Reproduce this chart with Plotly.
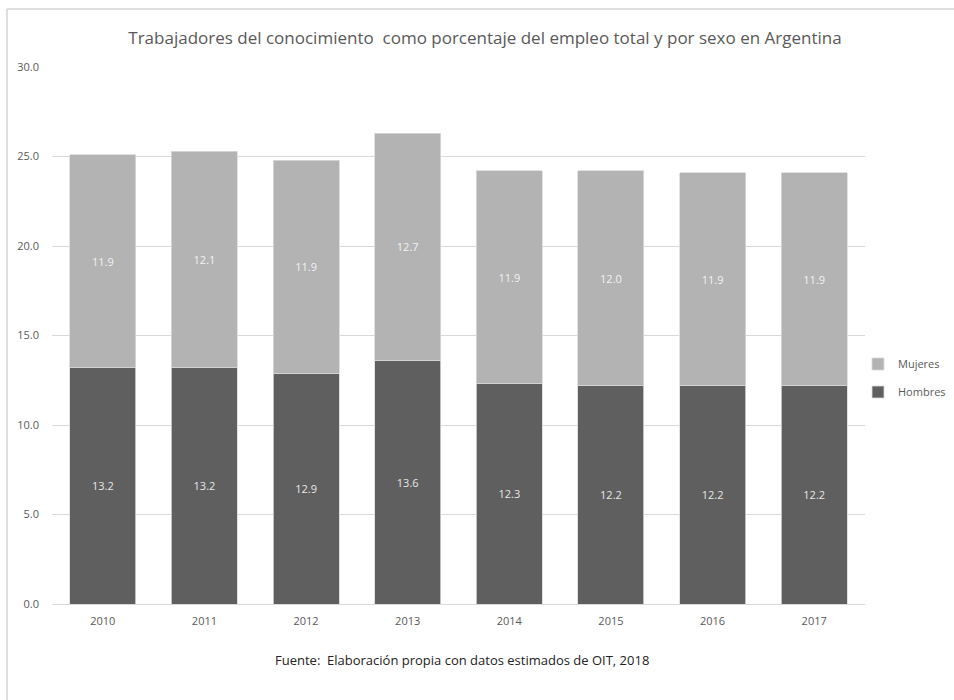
import plotly.graph_objects as go

# Knowledge workers as % of total employment, by sex (Argentina)
years = ["2010", "2011", "2012", "2013", "2014", "2015", "2016", "2017"]
hombres = [13.2, 13.2, 12.9, 13.6, 12.3, 12.2, 12.2, 12.2]
mujeres = [11.9, 12.1, 11.9, 12.7, 11.9, 12.0, 11.9, 11.9]
y_ticks = [0, 5, 10, 15, 20, 25, 30]

FONT = "Open Sans"
TICK_GRAY = "#595959"

# plot area in pixels
L, R, T, B = 52, 865, 67, 604
PW, PH = R - L, B - T

fig = go.Figure()
fig.add_trace(go.Bar(
    x=years, y=hombres, name="Hombres", legendgroup="hombres", legendrank=2,
    marker=dict(color="#5f5f5f", line=dict(color="#d9d9d9", width=0.8)),
    text=[f"{v:.1f}" for v in hombres], textposition="inside",
    insidetextanchor="middle",
    textfont=dict(family=FONT, size=11, color="#e8e8e8"),
))
fig.add_trace(go.Bar(
    x=years, y=mujeres, name="Mujeres", legendgroup="mujeres", legendrank=1,
    marker=dict(color="#b3b3b3", line=dict(color="#d9d9d9", width=0.8)),
    text=[f"{v:.1f}" for v in mujeres], textposition="inside",
    insidetextanchor="middle",
    textfont=dict(family=FONT, size=11, color="#f2f2f2"),
))

fig.update_layout(
    width=954, height=700,
    barmode="stack", bargap=0.35,
    plot_bgcolor="white", paper_bgcolor="white",
    margin=dict(l=L, r=954 - R, t=T, b=700 - B, autoexpand=False),
    font=dict(family=FONT, color=TICK_GRAY),
    uniformtext=dict(mode="show", minsize=9),
    title=dict(
        text="Trabajadores del conocimiento  como porcentaje del empleo total y por sexo en Argentina",
        x=485 / 954, xanchor="center", y=1 - 38 / 700, yanchor="middle",
        font=dict(family=FONT, size=17, color=TICK_GRAY),
    ),
    legend=dict(
        x=(858 - L) / PW, xanchor="left",
        y=(B - 378) / PH, yanchor="middle",
        traceorder="grouped",
        font=dict(family=FONT, size=11, color=TICK_GRAY),
        itemwidth=30, tracegroupgap=9,
    ),
    xaxis=dict(
        showgrid=False, showline=True, linecolor="#d9d9d9", linewidth=1,
        tickfont=dict(family=FONT, size=11, color=TICK_GRAY),
        ticks="", ticklabelstandoff=7,
    ),
    yaxis=dict(
        range=[0, 30], tickvals=y_ticks,
        ticktext=[f"{v:.1f}" for v in y_ticks],
        showgrid=True, gridcolor="#d9d9d9", gridwidth=1,
        zeroline=False, showline=False,
        tickfont=dict(family=FONT, size=11, color=TICK_GRAY),
        ticks="", ticklabelstandoff=12,
    ),
    annotations=[dict(
        text="Fuente:  Elaboración propia con datos estimados de OIT, 2018",
        xref="paper", yref="paper",
        x=(462 - L) / PW, y=(B - 660) / PH,
        xanchor="center", yanchor="middle", showarrow=False,
        font=dict(family=FONT, size=13, color="#222222"),
    )],
    shapes=[
        # outer frame (top and left edges visible inside the window)
        dict(type="line", xref="paper", yref="paper",
             x0=(7 - L) / PW, x1=1.2, y0=(B - 9) / PH, y1=(B - 9) / PH,
             line=dict(color="#d4d4d4", width=1.5)),
        dict(type="line", xref="paper", yref="paper",
             x0=(7 - L) / PW, x1=(7 - L) / PW, y0=(B - 9) / PH, y1=-0.3,
             line=dict(color="#d4d4d4", width=1.5)),
    ],
)

fig.write_html("out.html")
